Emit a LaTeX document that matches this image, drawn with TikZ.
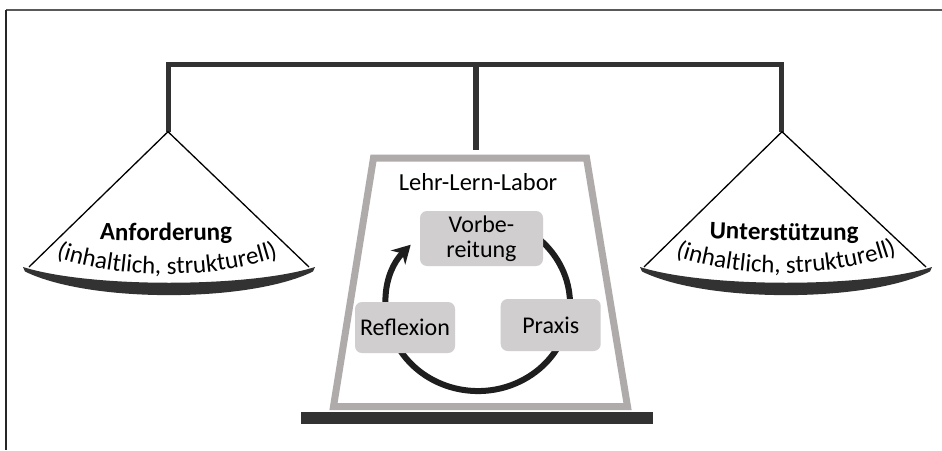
\documentclass[tikz,border=0pt]{standalone}
\usepackage{fontspec}
\setmainfont{Carlito}
\usetikzlibrary{arrows.meta,decorations.text}
\definecolor{bardark}{RGB}{50,50,50}
\definecolor{framegray}{RGB}{175,171,171}
\definecolor{boxgray}{RGB}{208,206,206}
\definecolor{ringblack}{RGB}{30,30,30}
\newcommand\pantitle{\fontsize{25}{30}\selectfont\bfseries}
\newcommand\pansub{\fontsize{25}{30}\selectfont}
\begin{document}
\begin{tikzpicture}[x=1pt,y=-1pt,
  stepbox/.style={fill=boxgray, rounded corners=7pt, inner sep=0pt, align=center,
    font=\fontsize{24}{25}\selectfont},
  labeltext/.style={inner sep=0pt, font=\fontsize{24.5}{25}\selectfont},
  barline/.style={draw=bardark, line width=5pt, line join=miter},
  cord/.style={draw=black, line width=1.3pt},
  bowlshape/.style={fill=bardark},
  arctext/.style={decorate, decoration={text along path, text align=center, text={#1}}}]
\fill[white] (0,0) rectangle (942,450);
\useasboundingbox (0,0) rectangle (942,450);
% frame
\draw[draw=black!65, line width=2pt] (6,9.5) -- (942,9.5);
\draw[draw=black!85, line width=1.5pt] (6,9.5) -- (6,450);
% beam and hangers
\coordinate (hl) at (168.3,131.7);
\coordinate (hr) at (781,131.7);
\coordinate (bl) at (168.3,64.5);
\coordinate (br) at (781,64.5);
\draw[barline] (hl) -- (bl) -- (br) -- (hr);
\coordinate (ct) at (476,64.5);
\coordinate (cb) at (476,150);
\draw[draw=bardark, line width=6pt] (ct) -- (cb);
% left pan
\draw[cord] (168,131.7) -- (29,267);
\draw[cord] (168,131.7) -- (309,267);
\path[bowlshape] (23,267) .. controls (89,288) and (249,288) .. (315,267)
  -- (313,271.5) .. controls (249,303) and (89,303) .. (25,271.5) -- cycle;
% right pan
\draw[cord] (782,131.7) -- (644,267);
\draw[cord] (782,131.7) -- (926,267);
\path[bowlshape] (640,267) .. controls (706,288) and (866,288) .. (932,267)
  -- (930,271.5) .. controls (866,303) and (706,303) .. (642,271.5) -- cycle;
% pan texts
\path[arctext={|\pantitle|Anforderung}] (56,237) .. controls (118,242) and (214,242) .. (276,237);
\path[arctext={|\pansub|(inhaltlich, strukturell)}] (37,250) .. controls (113,282) and (221,282) .. (297,250);
\path[arctext={|\pantitle|Unterstützung}] (676,236) .. controls (736,241) and (832,242) .. (892,238);
\path[arctext={|\pansub|(inhaltlich, strukturell)}] (656,249) .. controls (732,282) and (840,281) .. (916,246);
% lab trapezoid
\draw[draw=framegray, fill=white, line width=7pt, line join=miter]
  (373.5,158) -- (586.5,158) -- (627.5,406.5) -- (333.5,406.5) -- cycle;
\fill[bardark] (301,411.7) rectangle (652.7,424);
\node[labeltext, anchor=base] (lab) at (478,190.7) {Lehr-Lern-Labor};
% cycle ring
\coordinate (ringstart) at (432,228.7);
\draw[draw=ringblack, line width=6pt, -{Stealth[length=18pt,width=20pt]}]
  (ringstart) arc[start angle=-480, end angle=-137, x radius=92, y radius=87];
% steps
\node[stepbox, minimum width=123pt, minimum height=55pt] (vorb) at (481.5,238.5) {Vorbe-\\reitung};
\node[stepbox, minimum width=100pt, minimum height=51pt] (refl) at (405,327.5) {Reflexion};
\node[stepbox, minimum width=100pt, minimum height=52pt] (prax) at (550.7,325) {Praxis};
\end{tikzpicture}
\end{document}
